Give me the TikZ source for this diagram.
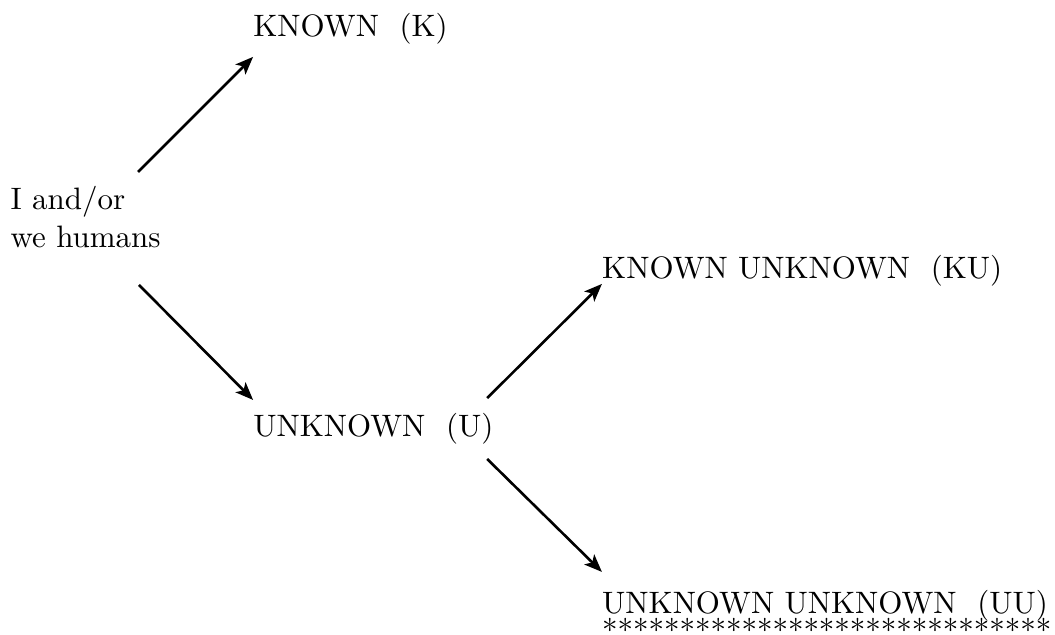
\documentclass[tikz,border=0pt]{standalone}
\usetikzlibrary{arrows.meta}
\begin{document}
\begin{tikzpicture}[x=1pt,y=1pt,
  lbl/.style={inner sep=0pt, outer sep=0pt, font=\fontsize{10.12}{12.4}\selectfont},
  arr/.style={line width=0.85pt, -{Stealth[length=5.8pt,width=4.6pt,inset=1.4pt]}}]
\useasboundingbox (0,0) rectangle (344.77,207.19);
\node[lbl, anchor=base west] (K) at (82.8,195.1) {KNOWN\ \ (K)};
\node[lbl, anchor=north west, align=left] (H) at (3.5,146.4) {I and/or\\we humans};
\node[lbl, anchor=base west] (KU) at (196.8,116.3) {KNOWN UNKNOWN\ \ (KU)};
\node[lbl, anchor=base west] (U) at (82.8,64.4) {UNKNOWN\ \ (U)};
\node[lbl, anchor=north west, align=left] (UU) at (196.8,14.4) {UNKNOWN UNKNOWN\ \ (UU)\\[-3.2pt]*****************************};
\draw[arr] ([shift={(41.6,4.6)}]H.north west) -- ([shift={(-0.1,-6.5)}]K.base west);
\draw[arr] ([shift={(41.9,-32.3)}]H.north west) -- ([shift={(-0.1,12.1)}]U.base west);
\draw[arr] ([shift={(76.4,12.7)}]U.base west) -- ([shift={(-0.1,-1.9)}]KU.base west);
\draw[arr] ([shift={(76.4,-7.2)}]U.base west) -- ([shift={(-0.1,5.9)}]UU.north west);
\end{tikzpicture}
\end{document}
